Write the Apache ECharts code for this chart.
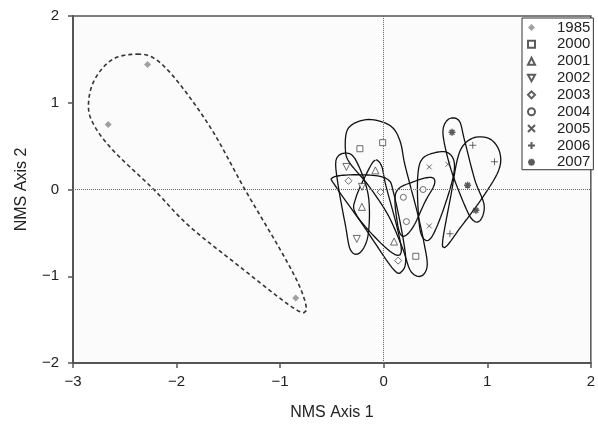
<!DOCTYPE html>
<html>
<head>
<meta charset="utf-8">
<script src="https://cdn.jsdelivr.net/npm/echarts@6/dist/echarts.min.js"></script>
<style>
  html, body { margin: 0; padding: 0; background: #fff; }
  #chart { width: 598px; height: 427px; }
</style>
</head>
<body>
<div id="chart"></div>
<script>
// years shown in the legend
const years = ['1985', '2000', '2001', '2002', '2003', '2004', '2005', '2006', '2007'];

// NMS scores (axis 1, axis 2), three plots per year
const p1985 = [[-2.28, 1.44], [-2.66, 0.75], [-0.85, -1.25]];
const p2000 = [[-0.23, 0.47], [-0.01, 0.54], [0.31, -0.77]];
const p2001 = [[-0.08, 0.22], [-0.21, -0.20], [0.10, -0.60]];
const p2002 = [[-0.36, 0.26], [-0.21, 0.03], [-0.26, -0.57]];
const p2003 = [[-0.34, 0.10], [-0.03, -0.03], [0.14, -0.82]];
const p2004 = [[0.19, -0.09], [0.22, -0.37], [0.38, 0.00]];
const p2005 = [[0.44, 0.26], [0.62, 0.29], [0.44, -0.42]];
const p2006 = [[0.86, 0.51], [1.07, 0.32], [0.64, -0.51]];
const p2007 = [[0.66, 0.66], [0.81, 0.05], [0.89, -0.24]];

// outlines drawn round each year (control points, axis units)
const o1985 = [[-2.38, 1.56], [-2.20, 1.50], [-1.98, 1.23], [-1.66, 0.69], [-1.34, 0.00], [-1.02, -0.65],
  [-0.83, -1.07], [-0.75, -1.34], [-0.78, -1.42], [-0.95, -1.30], [-1.40, -0.88], [-1.88, -0.42],
  [-2.22, 0.00], [-2.62, 0.46], [-2.81, 0.77], [-2.85, 1.00], [-2.79, 1.27], [-2.62, 1.50]];
const o2000 = [[-0.37, 0.46], [-0.35, 0.69], [-0.23, 0.79], [-0.08, 0.80], [0.08, 0.72], [0.16, 0.55],
  [0.20, 0.31], [0.26, 0.03], [0.33, -0.29], [0.39, -0.62], [0.42, -0.88], [0.36, -1.00], [0.26, -0.94],
  [0.18, -0.67], [0.04, -0.29], [-0.15, 0.05], [-0.33, 0.31]];
const o2001 = [[-0.08, 0.34], [-0.15, 0.22], [-0.27, -0.10], [-0.27, -0.28], [-0.06, -0.58], [0.11, -0.75],
  [0.17, -0.71], [0.13, -0.44], [0.02, 0.05], [-0.02, 0.27]];
const o2002 = [[-0.46, 0.34], [-0.37, 0.42], [-0.27, 0.34], [-0.15, -0.06], [-0.15, -0.52], [-0.23, -0.73],
  [-0.32, -0.70], [-0.37, -0.41], [-0.44, 0.05]];
const o2003 = [[-0.49, 0.14], [-0.25, 0.17], [0.02, 0.13], [0.10, -0.06], [0.21, -0.75], [0.17, -0.95],
  [0.08, -0.90], [-0.20, -0.41], [-0.46, 0.03]];
const o2004 = [[0.12, -0.03], [0.29, 0.09], [0.46, 0.14], [0.49, 0.06], [0.40, -0.14], [0.28, -0.44],
  [0.18, -0.54], [0.13, -0.37]];
const o2005 = [[0.33, 0.17], [0.37, 0.35], [0.48, 0.42], [0.61, 0.43], [0.68, 0.32], [0.66, 0.09],
  [0.54, -0.35], [0.44, -0.58], [0.36, -0.51], [0.33, -0.18]];
const o2006 = [[0.77, 0.51], [0.88, 0.60], [1.03, 0.58], [1.12, 0.43], [1.11, 0.22], [0.95, -0.10],
  [0.74, -0.44], [0.60, -0.66], [0.57, -0.59], [0.65, -0.06], [0.71, 0.34]];
const o2007 = [[0.58, 0.73], [0.64, 0.82], [0.73, 0.79], [0.78, 0.57], [0.88, 0.11], [0.97, -0.18],
  [0.93, -0.36], [0.85, -0.34], [0.76, -0.12], [0.65, 0.23], [0.58, 0.57]];

const xTicks = [-3, -2, -1, 0, 1, 2];
const yTicks = [-2, -1, 0, 1, 2];

const pointSets = [p1985, p2000, p2001, p2002, p2003, p2004, p2005, p2006, p2007];
const outlineSets = [o1985, o2000, o2001, o2002, o2003, o2004, o2005, o2006, o2007];

const symbols = [
  'diamond',
  'rect',
  'triangle',
  'path://M0,0L10,0L5,9Z',
  'diamond',
  'circle',
  'path://M0,0L10,10M10,0L0,10',
  'path://M5,0L5,10M0,5L10,5',
  'path://M5,0L5,10M0,5L10,5M1.5,1.5L8.5,8.5M8.5,1.5L1.5,8.5'
];
const sizes = [7, 6, 7, 7, 7, 6, 5, 7, 7];

// closed catmull-rom curve through the control points
function closedCurve(ctrl, steps) {
  const n = ctrl.length, out = [];
  for (let i = 0; i < n; i++) {
    const p0 = ctrl[(i - 1 + n) % n], p1 = ctrl[i], p2 = ctrl[(i + 1) % n], p3 = ctrl[(i + 2) % n];
    for (let s = 0; s < steps; s++) {
      const t = s / steps, t2 = t * t, t3 = t2 * t;
      out.push([0, 1].map(k => 0.5 * (2 * p1[k] + (-p0[k] + p2[k]) * t +
        (2 * p0[k] - 5 * p1[k] + 4 * p2[k] - p3[k]) * t2 +
        (-p0[k] + 3 * p1[k] - 3 * p2[k] + p3[k]) * t3)));
    }
  }
  out.push(out[0]);
  return out;
}

const minus = v => (v < 0 ? '\u2212' + Math.abs(v) : String(v));
const font = 'Liberation Sans, Arial, sans-serif';

const series = [];
outlineSets.forEach((o, i) => {
  series.push({
    name: years[i] + ' outline',
    type: 'line',
    data: closedCurve(o, 12),
    showSymbol: false,
    silent: true,
    z: 2,
    lineStyle: i === 0
      ? { color: '#333', width: 1.6, type: [4, 3] }
      : { color: '#111', width: 1.3 }
  });
});
pointSets.forEach((p, i) => {
  const filled = i === 0;
  series.push({
    name: years[i],
    type: 'scatter',
    data: p,
    symbol: symbols[i],
    symbolSize: sizes[i],
    z: 5,
    itemStyle: filled
      ? { color: '#8a8a8a' }
      : { color: i >= 6 ? 'rgba(0,0,0,0)' : '#fff', borderColor: '#333', borderWidth: i === 8 ? 1.5 : 0.9 }
  });
});
// zero reference lines
series.push({
  type: 'line',
  data: [],
  silent: true,
  z: 1,
  markLine: {
    silent: true,
    symbol: 'none',
    label: { show: false },
    lineStyle: { color: '#666', width: 1, type: 'dotted' },
    data: [{ xAxis: 0 }, { yAxis: 0 }]
  }
});

const myChart = echarts.init(document.getElementById('chart'));
myChart.setOption({
  animation: false,
  backgroundColor: '#fff',
  grid: {
    left: 73, right: 4, top: 16, bottom: 64,
    show: true, backgroundColor: '#fbfbfb', borderColor: '#555', borderWidth: 1.5
  },
  legend: {
    data: years,
    orient: 'vertical',
    left: 522, top: 18,
    padding: [2, 3, 0, 5],
    backgroundColor: '#fff',
    borderColor: '#333', borderWidth: 1,
    itemWidth: 7, itemHeight: 7, itemGap: 1.84,
    textStyle: { fontFamily: font, fontSize: 15, lineHeight: 15, color: '#222', padding: [0, 0, 0, 17] }
  },
  xAxis: {
    type: 'value', min: xTicks[0], max: xTicks[xTicks.length - 1], interval: 1,
    name: 'NMS Axis 1', nameLocation: 'middle', nameGap: 42,
    nameTextStyle: { fontFamily: font, fontSize: 16, color: '#222' },
    axisLine: { onZero: false, lineStyle: { color: '#555', width: 2 } },
    axisTick: { length: 5, lineStyle: { color: '#555', width: 1.5 } },
    axisLabel: { formatter: minus, fontFamily: font, fontSize: 15, color: '#222', margin: 11 },
    splitLine: { show: false }
  },
  yAxis: {
    type: 'value', min: yTicks[0], max: yTicks[yTicks.length - 1], interval: 1,
    name: 'NMS Axis 2', nameLocation: 'middle', nameGap: 43,
    nameTextStyle: { fontFamily: font, fontSize: 16, color: '#222' },
    axisLine: { onZero: false, lineStyle: { color: '#555', width: 2 } },
    axisTick: { length: 5, lineStyle: { color: '#555', width: 1.5 } },
    axisLabel: { formatter: minus, fontFamily: font, fontSize: 15, color: '#222', margin: 14 },
    splitLine: { show: false }
  },
  series: series
});
</script>
</body>
</html>
